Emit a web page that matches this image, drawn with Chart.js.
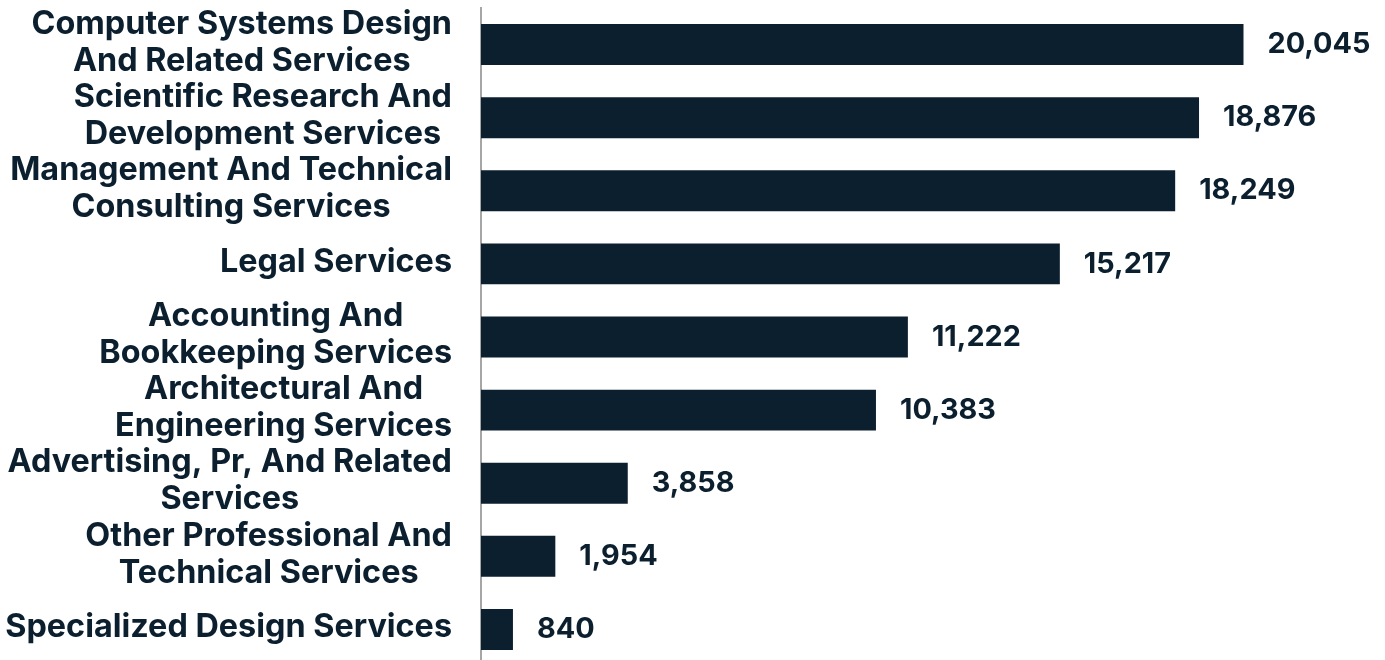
<!DOCTYPE html>
<html>
<head>
<meta charset="utf-8">
<script src="https://cdn.jsdelivr.net/npm/chart.js@4/dist/chart.umd.min.js"></script>
<style>
  html, body { margin: 0; padding: 0; background: #fff; overflow: hidden; }
  #wrap { width: 1385px; height: 660px; overflow: hidden; }
</style>
</head>
<body>
<div id="wrap"><canvas id="chart" width="1385" height="666"></canvas></div>
<script>
// Дані графіка
const categories = [
  ["Computer Systems Design", "And Related Services"],
  ["Scientific Research And", "Development Services"],
  ["Management And Technical", "Consulting Services"],
  ["Legal Services"],
  ["Accounting And", "Bookkeeping Services"],
  ["Architectural And", "Engineering Services"],
  ["Advertising, Pr, And Related", "Services"],
  ["Other Professional And", "Technical Services"],
  ["Specialized Design Services"]
];
const values = [20045, 18876, 18249, 15217, 11222, 10383, 3858, 1954, 840];

const navy = "#0b1f2e";
const fontFamily = "Inter, 'Open Sans', sans-serif";

// Підбір розміру шрифту під ширину тексту
function fitSize(ctx, text, width) {
  ctx.font = "700 100px " + fontFamily;
  return 100 * width / ctx.measureText(text).width;
}

// Плагін: підписи категорій та значень
const labelsPlugin = {
  id: "labels",
  afterDatasetsDraw(chart) {
    const ctx = chart.ctx;
    const yScale = chart.scales.y;
    const xScale = chart.scales.x;
    const labelSize = fitSize(ctx, "Management And Technical", 442);
    const valueSize = fitSize(ctx, "20,045", 103);
    const rightEdge = 452;
    const lineH = 37;

    ctx.save();
    ctx.fillStyle = navy;
    ctx.textBaseline = "middle";

    // підписи категорій
    ctx.font = "700 " + labelSize + "px " + fontFamily;
    ctx.textAlign = "center";
    categories.forEach((lines, i) => {
      const cy = yScale.getPixelForValue(i) - 2;
      const blockW = Math.max(...lines.map(l => ctx.measureText(l).width));
      const cx = rightEdge - blockW / 2;
      const top = cy - (lines.length - 1) * lineH / 2;
      lines.forEach((l, j) => ctx.fillText(l, cx, top + j * lineH));
    });

    // значення біля стовпців
    ctx.font = "700 " + valueSize + "px " + fontFamily;
    ctx.textAlign = "left";
    values.forEach((v, i) => {
      const x = xScale.getPixelForValue(v) + 24;
      const y = yScale.getPixelForValue(i);
      ctx.fillText(v.toLocaleString("en-US"), x, y);
    });
    ctx.restore();
  }
};

new Chart(document.getElementById("chart").getContext("2d"), {
  type: "bar",
  data: {
    labels: categories.map(c => c.join(" ")),
    datasets: [{
      data: values,
      backgroundColor: navy,
      barPercentage: 0.56,
      categoryPercentage: 1
    }]
  },
  options: {
    indexAxis: "y",
    responsive: false,
    animation: false,
    layout: { padding: { top: 8, bottom: 0, left: 0, right: 0 } },
    plugins: {
      legend: { display: false },
      tooltip: { enabled: false }
    },
    scales: {
      x: {
        display: false,
        min: 0,
        max: 23765
      },
      y: {
        grid: { display: false },
        border: { display: true, color: "#a6a6a6", width: 2 },
        ticks: { display: false },
        afterFit(scale) { scale.width = 481; }
      }
    }
  },
  plugins: [labelsPlugin]
});
</script>
</body>
</html>
